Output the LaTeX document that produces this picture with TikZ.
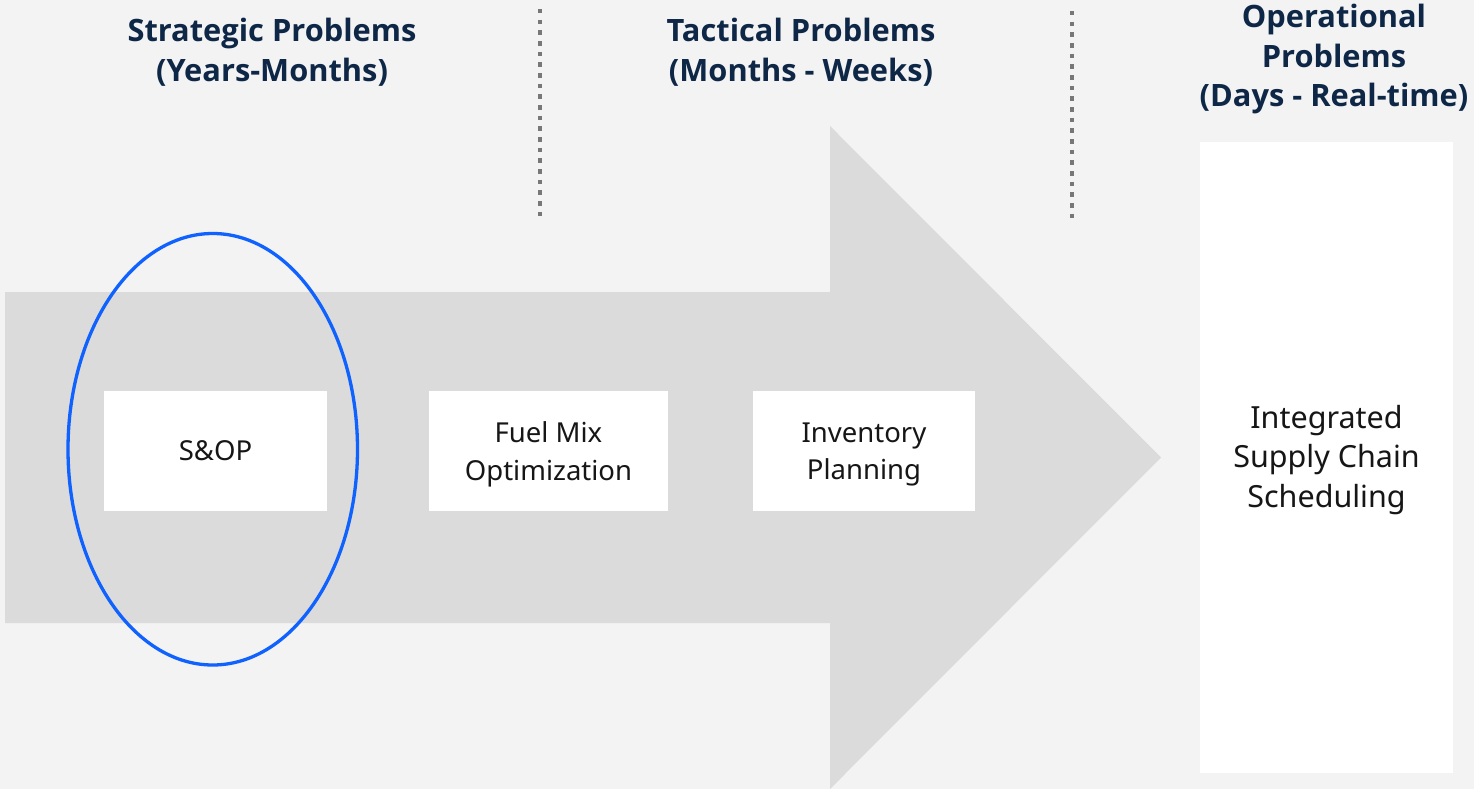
\documentclass[tikz,border=0pt]{standalone}
\usepackage{fontspec}
\setmainfont{Noto Sans}
\newfontfamily\headfont{Open Sans}
\usetikzlibrary{shapes.geometric}
\definecolor{bg}{HTML}{F3F3F3}
\definecolor{arrowgray}{HTML}{DBDBDB}
\definecolor{navy}{HTML}{0E2746}
\definecolor{dotgray}{HTML}{777777}
\definecolor{ibmblue}{HTML}{0F62FE}
\definecolor{ink}{HTML}{161616}
\begin{document}
\begin{tikzpicture}[x=1pt,y=-1pt,
  box/.style={fill=white, inner sep=0pt, align=center, text=ink,
    font=\fontsize{27.5}{37.5}\selectfont},
  header/.style={align=center, text=navy, inner sep=0pt,
    font=\headfont\bfseries\fontsize{30.8}{39.5}\selectfont},
  divider/.style={draw=dotgray, line width=4.5pt, dash pattern=on 4.5pt off 6.17pt}]
\fill[bg] (0,0) rectangle (1474,789);
\useasboundingbox (0,0) rectangle (1474,789);
% big arrow
\fill[arrowgray] (5,292) -- (830,292) -- (830,126) -- (1161,457.5) -- (830,789) -- (830,623) -- (5,623) -- cycle;
% dividers
\coordinate (d1a) at (540,9);
\coordinate (d1b) at (540,217);
\coordinate (d2a) at (1072,11);
\coordinate (d2b) at (1072,219);
\draw[divider] (d1a) -- (d1b);
\draw[divider] (d2a) -- (d2b);
% headers
\node[header] (h1) at (272,52) {Strategic Problems\\(Years-Months)};
\node[header] (h2) at (801,52) {Tactical Problems\\(Months - Weeks)};
\node[header] (h3) at (1334,59.5) {Operational\\Problems\\(Days - Real-time)};
% boxes
\node[box, minimum width=223pt, minimum height=120pt] (sop) at (215.5,451) {S\&OP};
\node[box, minimum width=239pt, minimum height=120pt, text depth=0pt] (fuel) at (548.5,451) {Fuel Mix\\Optimization};
\node[box, minimum width=222pt, minimum height=120pt, text depth=0pt] (inv) at (864,451) {Inventory\\Planning};
\node[box, minimum width=253pt, minimum height=631pt] (isc) at (1326.5,457.5) {};
\node[align=center, text=ink, inner sep=0pt, font=\fontsize{30.5}{39.5}\selectfont] (isctext) at (isc.center) [yshift=-2.5pt] {Integrated\\Supply Chain\\Scheduling};
% highlight ellipse
\node[ellipse, draw=ibmblue, line width=3.3pt, inner sep=0pt, minimum width=289.5pt, minimum height=431.5pt] (ring) at (212.75,449.25) {};
\end{tikzpicture}
\end{document}
